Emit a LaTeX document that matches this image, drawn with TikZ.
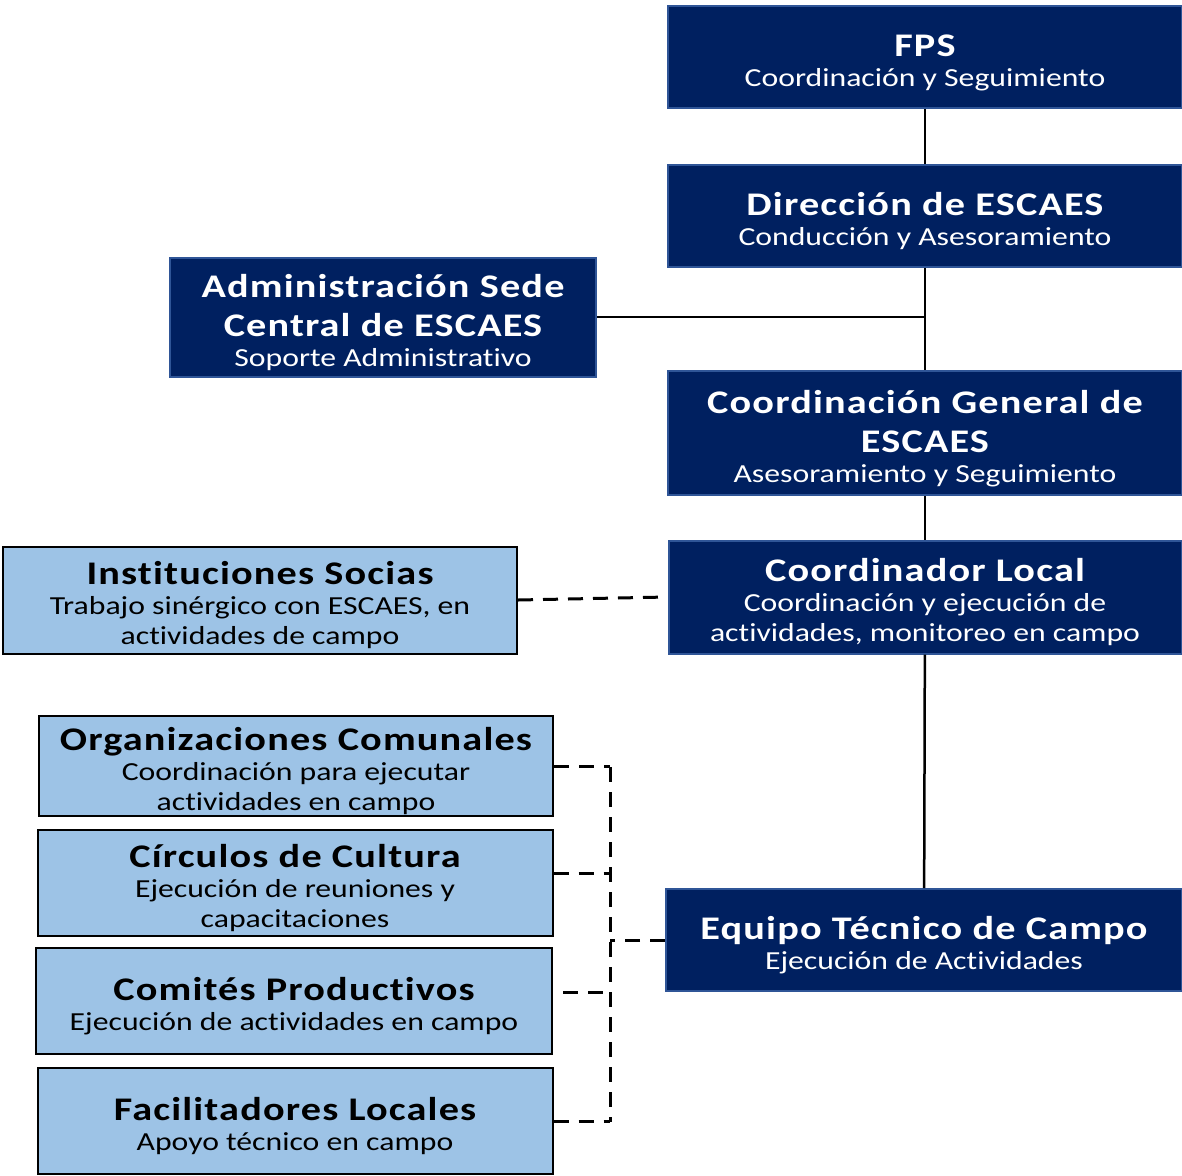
\documentclass[tikz,border=0pt]{standalone}
\usepackage{fontspec}
\setmainfont[FakeStretch=1.22, Ligatures=NoCommon,
  BoldFeatures={LetterSpace=3.5}]{Carlito}
\usepackage{tikz}
\usetikzlibrary{arrows,shapes,positioning}

\definecolor{navy}{HTML}{002060}
\definecolor{navyline}{HTML}{2F5597}
\definecolor{paleblue}{HTML}{9DC3E6}

\tikzset{
  darkbox/.style={draw=navyline, fill=navy, line width=2pt, text=white,
    inner sep=0pt, align=center, font=\fontsize{26}{30}\selectfont},
  lightbox/.style={draw=black, fill=paleblue, line width=2pt, text=black,
    inner sep=0pt, align=center, font=\fontsize{26}{30}\selectfont},
  link/.style={draw=black, line width=2.5pt},
  duty/.style={draw=black, line width=3pt, dash pattern=on 15pt off 10pt}
}
\newcommand{\hd}[1]{{\fontsize{33}{39}\selectfont\bfseries\rule{0pt}{34pt}#1}}

\begin{document}
\begin{tikzpicture}[x=1pt,y=-1pt]
\useasboundingbox (0,0) rectangle (1182,1175);
%\fill[white] (0,0) rectangle (1182,1175);
\node[darkbox, minimum width=514, minimum height=102] (fps) at (925,57)
  {\hd{FPS}\\Coordinación y Seguimiento};
\node[darkbox, minimum width=514, minimum height=102] (dir) at (925,216)
  {\hd{Dirección de ESCAES}\\Conducción y Asesoramiento};
\node[darkbox, minimum width=426, minimum height=119] (admin) at (383,317)
  {\hd{Administración Sede}\\[4pt]\hd{Central de ESCAES}\\Soporte Administrativo};
\node[darkbox, minimum width=514, minimum height=124] (cgen) at (925,433)
  {\hd{Coordinación General de}\\[4pt]\hd{ESCAES}\\Asesoramiento y Seguimiento};
\node[darkbox, minimum width=513, minimum height=113] (cloc) at (925,597)
  {\hd{Coordinador Local}\\Coordinación y ejecución de\\actividades, monitoreo en campo};
\node[lightbox, minimum width=514, minimum height=107] (inst) at (260,600)
  {\hd{Instituciones Socias}\\Trabajo sinérgico con ESCAES, en\\actividades de campo};
\node[darkbox, minimum width=516, minimum height=102] (equipo) at (924,940)
  {\hd{Equipo Técnico de Campo}\\Ejecución de Actividades};
\node[lightbox, minimum width=514, minimum height=100] (org) at (296,766)
  {\hd{Organizaciones Comunales}\\Coordinación para ejecutar\\actividades en campo};
\node[lightbox, minimum width=515, minimum height=106] (circ) at (295,883)
  {\hd{Círculos de Cultura}\\Ejecución de reuniones y\\capacitaciones};
\node[lightbox, minimum width=516, minimum height=106] (comit) at (294,1001)
  {\hd{Comités Productivos}\\Ejecución de actividades en campo};
\node[lightbox, minimum width=515, minimum height=106] (facil) at (295,1121)
  {\hd{Facilitadores Locales}\\Apoyo técnico en campo};
\coordinate (bt) at (610,767);
\coordinate (bb) at (610,1122);
\draw[link] (fps) -- (dir);
\draw[link] (dir) -- (cgen);
\draw[link] (admin.east) -- (admin.east -| cgen.north);
\draw[link] (cgen) -- (cloc);
\draw[link] (cloc) -- (equipo);
\draw[duty] (inst.east) -- (cloc.west);
\draw[duty] (bt) -- (bb);
\draw[duty] (org.east) -- (org.east -| bt);
\draw[duty] ([yshift=10pt]circ.east) -- ([yshift=10pt]circ.east -| bt);
\draw[duty] ([xshift=10pt,yshift=9pt]comit.east) -- ([yshift=9pt]comit.east -| bt);
\draw[duty] (facil.east) -- (facil.east -| bt);
\draw[duty] (equipo.west) -- (equipo.west -| bt);
\end{tikzpicture}
\end{document}
